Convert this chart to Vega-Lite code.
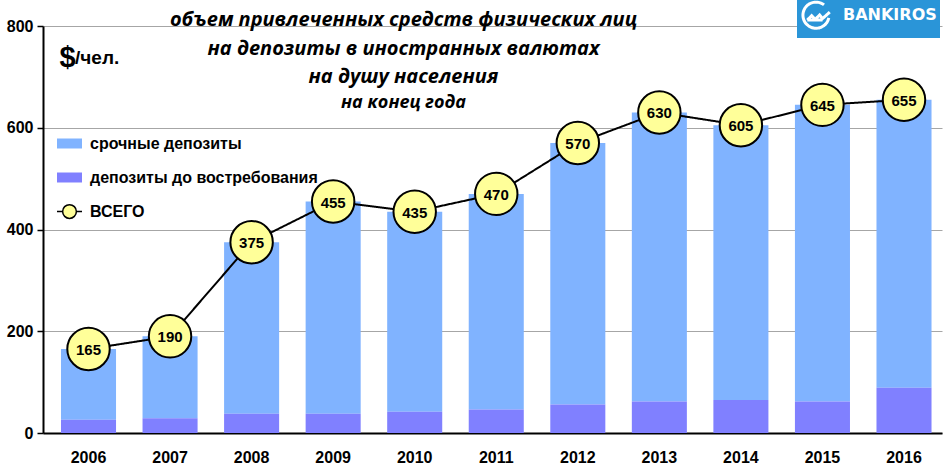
{
  "$schema": "https://vega.github.io/schema/vega-lite/v6.json",
  "width": 899,
  "height": 407,
  "autosize": {"type": "none"},
  "padding": {"left": 43, "top": 26, "right": 4, "bottom": 40},
  "background": "white",
  "data": {
    "values": [
      {"year": "2006", "total": 165, "demand": 26},
      {"year": "2007", "total": 190, "demand": 29},
      {"year": "2008", "total": 375, "demand": 38},
      {"year": "2009", "total": 455, "demand": 38},
      {"year": "2010", "total": 435, "demand": 42},
      {"year": "2011", "total": 470, "demand": 46},
      {"year": "2012", "total": 570, "demand": 56},
      {"year": "2013", "total": 630, "demand": 62},
      {"year": "2014", "total": 605, "demand": 65},
      {"year": "2015", "total": 645, "demand": 62},
      {"year": "2016", "total": 655, "demand": 89}
    ]
  },
  "title": {
    "text": ["объем привлеченных средств физических лиц", "на депозиты в иностранных валютах", "на душу населения"],
    "subtitle": "на конец года",
    "anchor": "middle",
    "frame": "group",
    "dx": -89,
    "offset": -116,
    "font": "Open Sans",
    "fontSize": 20,
    "fontStyle": "italic",
    "fontWeight": "bold",
    "lineHeight": 28.5,
    "color": "black",
    "subtitleFont": "Open Sans",
    "subtitleFontSize": 18,
    "subtitleFontStyle": "italic",
    "subtitleFontWeight": "bold",
    "subtitleColor": "black",
    "subtitlePadding": 7
  },
  "config": {
    "view": {"stroke": null},
    "axis": {"labelFont": "Liberation Sans", "labelFontWeight": "bold", "labelFontSize": 16, "labelColor": "black"}
  },
  "encoding": {
    "x": {
      "field": "year",
      "type": "ordinal",
      "scale": {"paddingInner": 0.325, "paddingOuter": 0.1745, "align": 0.632},
      "axis": {
        "title": null,
        "labelAngle": 0,
        "ticks": false,
        "labelPadding": 16,
        "domainColor": "black",
        "domainWidth": 2,
        "grid": false
      }
    }
  },
  "layer": [
    {
      "mark": {"type": "bar", "color": "#80B3FF"},
      "encoding": {
        "y": {
          "field": "total",
          "type": "quantitative",
          "scale": {"domain": [0, 800], "nice": false},
          "axis": {
            "title": "$",
            "titleAngle": 0,
            "titleX": 24,
            "titleY": 40,
            "titleAlign": "center",
            "titleBaseline": "alphabetic",
            "titleFont": "Liberation Sans",
            "titleFontSize": 29,
            "titleFontWeight": "bold",
            "titleColor": "black",
            "values": [0, 200, 400, 600, 800],
            "grid": true,
            "gridColor": "#A6A6A6",
            "gridWidth": 1,
            "domainColor": "black",
            "domainWidth": 2,
            "tickColor": "black",
            "tickSize": 6,
            "tickWidth": 1.5,
            "labelPadding": 4
          }
        },
        "y2": {"field": "demand"},
        "color": {
          "datum": "срочные депозиты",
          "type": "nominal",
          "scale": {
            "domain": ["срочные депозиты", "депозиты до востребования", "ВСЕГО"],
            "range": ["#80B3FF", "#8080FF", "#FFFF99"]
          },
          "legend": {
            "orient": "none",
            "legendX": 13,
            "legendY": 23,
            "padding": 0,
            "title": "/чел.",
            "titleFont": "Liberation Sans",
            "titleFontSize": 19,
            "titleFontWeight": "bold",
            "titleColor": "black",
            "titlePadding": 62,
            "labelFont": "Liberation Sans",
            "labelFontSize": 16,
            "labelFontWeight": "bold",
            "labelColor": "black",
            "labelOffset": 7,
            "labelLimit": 400,
            "rowPadding": 12,
            "symbolSize": 625,
            "symbolOpacity": 1,
            "encode": {
              "title": {"update": {"dx": {"value": 19}}},
              "symbols": {
                "update": {
                  "shape": {"signal": "datum.value === 'ВСЕГО' ? 'M-1,0H-0.55M0.55,0H1M-0.55,0A0.55,0.55 0 1,1 0.55,0A0.55,0.55 0 1,1 -0.55,0Z' : 'M-1,-0.4H1V0.4H-1Z'"},
                  "stroke": {"signal": "datum.value === 'ВСЕГО' ? 'black' : 'transparent'"},
                  "strokeWidth": {"value": 1.5},
                  "opacity": {"value": 1}
                }
              }
            }
          }
        }
      }
    },
    {
      "mark": {"type": "bar"},
      "encoding": {
        "y": {"field": "demand", "type": "quantitative", "title": "$"},
        "color": {"datum": "депозиты до востребования", "type": "nominal"}
      }
    },
    {
      "mark": {"type": "line", "color": "black", "strokeWidth": 2},
      "encoding": {
        "y": {"field": "total", "type": "quantitative", "title": "$"},
        "strokeDash": {
          "datum": "BANKIROS",
          "type": "nominal",
          "scale": {"range": [[1, 0]]},
          "legend": {
            "orient": "none",
            "legendX": 754,
            "legendY": -30,
            "title": null,
            "fillColor": "#2A95D8",
            "padding": 3,
            "labelFont": "DejaVu Sans",
            "labelFontSize": 16,
            "labelFontWeight": "bold",
            "labelColor": "white",
            "labelOffset": 11,
            "symbolType": "M0.55,-0.7A0.9,0.9 0 1,0 0.88,0.2M-0.6,0.35L-0.3,0.05L-0.05,0.3L0.25,0L0.45,0.25L0.95,-0.2M-0.6,0.35H0.45",
            "symbolSize": 841,
            "symbolStrokeColor": "white",
            "symbolStrokeWidth": 3,
            "symbolFillColor": "transparent"
          }
        }
      }
    },
    {
      "mark": {"type": "point", "filled": true, "size": 1800, "stroke": "black", "strokeWidth": 2, "opacity": 1},
      "encoding": {
        "y": {"field": "total", "type": "quantitative", "title": "$"},
        "color": {"datum": "ВСЕГО", "type": "nominal"}
      }
    },
    {
      "mark": {"type": "text", "font": "Liberation Sans", "fontWeight": "bold", "fontSize": 15, "color": "black", "baseline": "middle", "dy": 1},
      "encoding": {
        "y": {"field": "total", "type": "quantitative", "title": "$"},
        "text": {"field": "total", "type": "quantitative"}
      }
    }
  ]
}
